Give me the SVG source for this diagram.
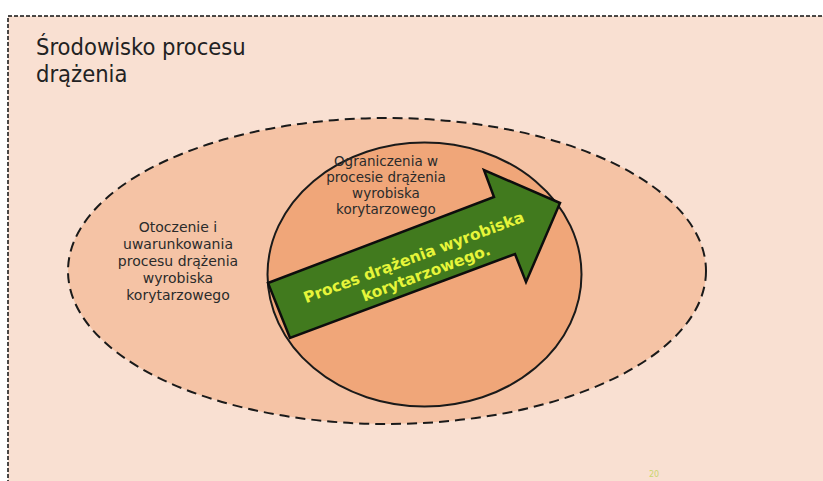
<svg xmlns="http://www.w3.org/2000/svg" width="823" height="481" viewBox="0 0 823 481">
<style>
.lbl{font-family:"DejaVu Sans","Verdana",sans-serif;fill:#2b2b2b;text-anchor:middle}
.arr{font-family:"DejaVu Sans","Verdana",sans-serif;font-weight:bold;fill:#e6f53a;text-anchor:middle}
</style>
<rect x="0" y="0" width="823" height="481" fill="#ffffff"/>
<g id="panel">
<rect x="8" y="16" width="840" height="480" fill="#f9e0d2" stroke="#111" stroke-width="1.5" stroke-dasharray="4,2"/>
<text font-family="DejaVu Sans Condensed, DejaVu Sans, sans-serif" font-size="23.5" fill="#222"><tspan x="36" y="55">Środowisko procesu</tspan><tspan x="36" y="82">drążenia</tspan></text>
<text x="649" y="477" font-family="DejaVu Sans, sans-serif" font-size="8" fill="#c9d66e">20</text>
</g>
<g id="environment">
<ellipse cx="387" cy="271" rx="319" ry="153" fill="#f5c3a5" stroke="#1a1a1a" stroke-width="2" stroke-dasharray="10,6"/>
<text class="lbl" font-size="14"><tspan x="178" y="232">Otoczenie i</tspan><tspan x="178" y="249">uwarunkowania</tspan><tspan x="178" y="266">procesu drążenia</tspan><tspan x="178" y="283">wyrobiska</tspan><tspan x="178" y="300">korytarzowego</tspan></text>
</g>
<g id="constraints">
<ellipse cx="424.5" cy="274.5" rx="157" ry="132" fill="#f0a679" stroke="#1a1a1a" stroke-width="2"/>
<text class="lbl" font-size="13.5"><tspan x="386" y="166">Ograniczenia w</tspan><tspan x="386" y="182">procesie drążenia</tspan><tspan x="386" y="198">wyrobiska</tspan><tspan x="386" y="214">korytarzowego</tspan></text>
</g>
<g id="process">
<polygon points="268,283 494,197 484,170 560,203 526,282 515,254 290,338" fill="#417a1e" stroke="#0d0d0d" stroke-width="2.5" stroke-linejoin="miter"/>
<g transform="translate(417,266) rotate(-20.5)">
<text class="arr" font-size="15.5"><tspan x="0" y="-4">Proces drążenia wyrobiska</tspan><tspan x="6" y="15">korytarzowego.</tspan></text>
</g>
</g>
<g id="connectors"></g>
</svg>
